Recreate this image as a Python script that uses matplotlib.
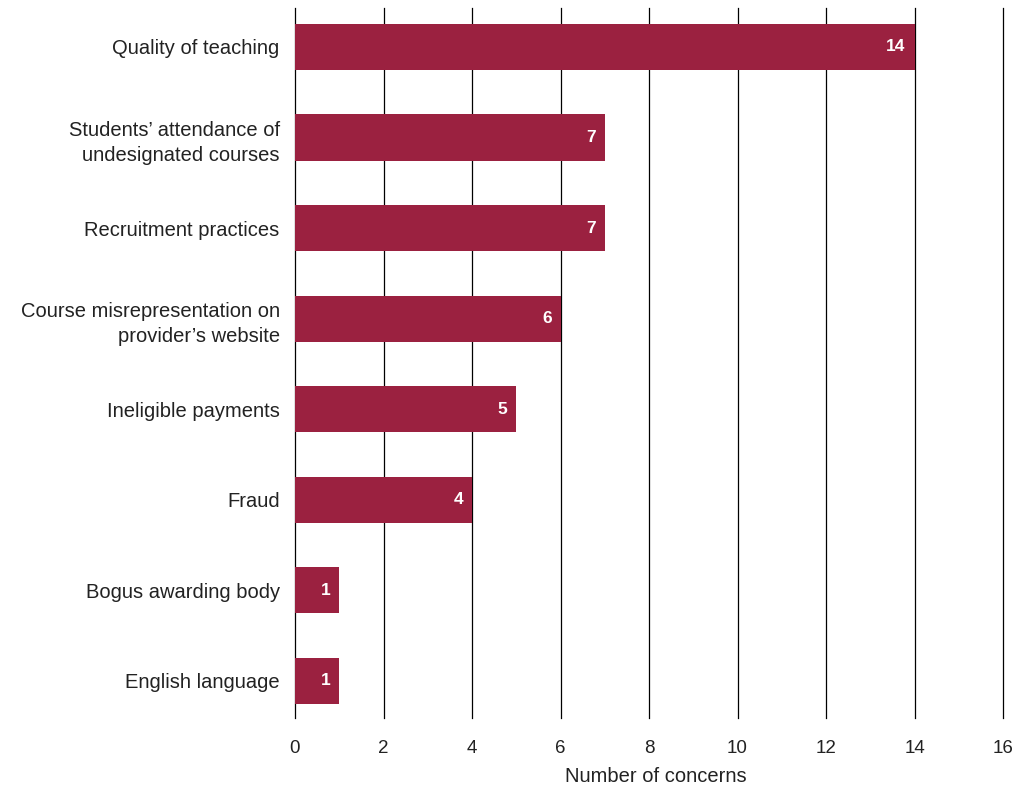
import matplotlib
matplotlib.use("Agg")
import matplotlib.pyplot as plt

categories = ["Quality of teaching",
              "Students\u2019 attendance of\nundesignated courses",
              "Recruitment practices",
              "Course misrepresentation on\nprovider\u2019s website",
              "Ineligible payments",
              "Fraud",
              "Bogus awarding body",
              "English language"]
values = [14, 7, 7, 6, 5, 4, 1, 1]
xticks = [0, 2, 4, 6, 8, 10, 12, 14, 16]

plt.rcParams['font.family'] = ['Liberation Sans', 'DejaVu Sans']

fig = plt.figure(figsize=(10.26, 7.89), dpi=100)
ax = fig.add_axes([295/1026, 1-718/789, (1003-295)/1026, (718-8)/789])

y = list(range(len(categories)))
ax.barh(y, values, height=0.51, color="#9B2140", zorder=3)
for yi, v in zip(y, values):
    ax.text(v - 0.2, yi, str(v), ha="right", va="center", color="white",
            fontsize=12.5, fontweight="bold", zorder=4)

ax.set_xlim(0, 16)
ax.set_ylim(len(categories) - 1 + 0.41, -0.43)
ax.set_xticks(xticks)
ax.set_xticklabels([str(t) for t in xticks], fontsize=13.5, color="#222222")
ax.set_yticks(y)
ax.set_yticklabels(categories, fontsize=14.5, color="#222222", linespacing=1.45)
ax.tick_params(axis="both", length=0)
ax.tick_params(axis="x", pad=16)
ax.tick_params(axis="y", pad=11)
for s in ax.spines.values():
    s.set_visible(False)
for t in xticks:
    ax.axvline(t, color="black", lw=0.9, zorder=1, clip_on=False)
ax.set_xlabel("Number of concerns", fontsize=14.5, color="#222222")
ax.xaxis.set_label_coords((656-295)/(1003-295), -(777-718)/(718-8), transform=ax.transAxes)
ax.xaxis.label.set_va("center")

fig.savefig("out.png", dpi=100)
